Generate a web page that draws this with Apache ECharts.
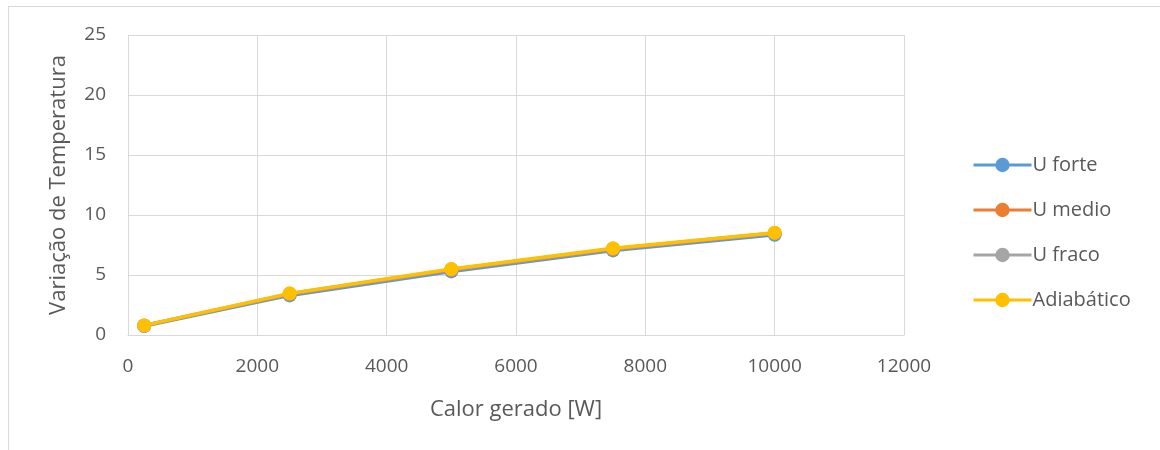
<!DOCTYPE html>
<html>
<head>
<meta charset="utf-8">
<script src="https://cdn.jsdelivr.net/npm/echarts@6/dist/echarts.min.js"></script>
<style>
  html, body { margin: 0; padding: 0; background: #fff; }
  #frame { position: absolute; left: 8px; top: 6px; width: 1160px; height: 460px; border: 1px solid #d9d9d9; box-sizing: border-box; }
  #chart { position: absolute; left: 0; top: 0; width: 1160px; height: 450px; }
</style>
</head>
<body>
<div id="frame"></div>
<div id="chart"></div>
<script>
// Heat generated [W] on the x axis
const heat = [250, 2500, 5000, 7500, 10000];

// Temperature rise for each heat-transfer case
const uForte = [0.75, 3.30, 5.30, 7.05, 8.35];
const uMedio = [0.78, 3.40, 5.42, 7.15, 8.47];
const uFraco = [0.79, 3.43, 5.46, 7.19, 8.50];
const adiabatico = [0.80, 3.47, 5.50, 7.22, 8.53];

const seriesNames = ['U forte', 'U medio', 'U fraco', 'Adiabático'];
const seriesColors = ['#5B9BD5', '#ED7D31', '#A5A5A5', '#FFC000'];
const seriesValues = [uForte, uMedio, uFraco, adiabatico];

const font = '"Open Sans", "Noto Sans", sans-serif';
const textColor = '#595959';

const chart = echarts.init(document.getElementById('chart'), null, { renderer: 'canvas' });

chart.setOption({
  animation: false,
  textStyle: { fontFamily: font },
  grid: { left: 128, top: 35, right: 256, bottom: 115, containLabel: false },
  legend: {
    orient: 'vertical',
    left: 967,
    top: 150,
    itemWidth: 58,
    itemHeight: 18,
    itemGap: 25,
    lineStyle: { width: 3 },
    textStyle: { fontFamily: font, fontSize: 20, color: textColor, padding: [0, 0, 0, -4] },
    data: seriesNames
  },
  xAxis: {
    type: 'value',
    min: 0,
    max: 12000,
    interval: 2000,
    name: 'Calor gerado [W]',
    nameLocation: 'middle',
    nameGap: 64,
    nameTextStyle: { fontFamily: font, fontSize: 22, color: textColor },
    axisLine: { show: true, lineStyle: { color: '#d9d9d9', width: 1 } },
    axisTick: { show: false },
    axisLabel: { fontFamily: font, fontSize: 19, color: textColor, margin: 22, formatter: v => String(v) },
    splitLine: { show: true, lineStyle: { color: '#d9d9d9', width: 1 } }
  },
  yAxis: {
    type: 'value',
    min: 0,
    max: 25,
    interval: 5,
    name: 'Variação de Temperatura',
    nameLocation: 'middle',
    nameGap: 58,
    nameTextStyle: { fontFamily: font, fontSize: 22, color: textColor },
    axisLine: { show: true, lineStyle: { color: '#d9d9d9', width: 1 } },
    axisTick: { show: false },
    axisLabel: { fontFamily: font, fontSize: 19, color: textColor, margin: 22 },
    splitLine: { show: true, lineStyle: { color: '#d9d9d9', width: 1 } }
  },
  series: seriesNames.map((name, i) => ({
    name: name,
    type: 'line',
    data: heat.map((x, j) => [x, seriesValues[i][j]]),
    symbol: 'circle',
    symbolSize: 14,
    showSymbol: true,
    color: seriesColors[i],
    lineStyle: { width: 3.5, color: seriesColors[i] },
    itemStyle: { color: seriesColors[i] },
    z: 2 + i
  }))
});
</script>
</body>
</html>
